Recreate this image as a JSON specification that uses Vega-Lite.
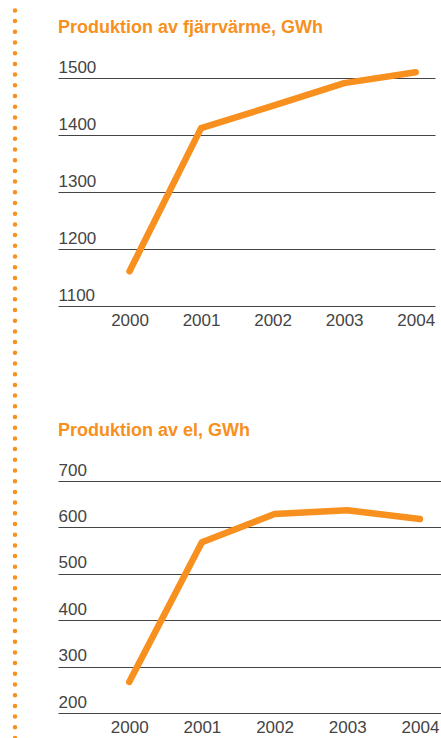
{
  "$schema": "https://vega.github.io/schema/vega-lite/v6.json",
  "padding": {"left": 0, "top": 7, "right": 0, "bottom": 0},
  "background": "white",
  "config": {"view": {"stroke": null}, "font": "Liberation Sans"},
  "datasets": {
    "dots": [{"x": 0.5, "start": 0, "end": 1.103}],
    "heat": [
      {"year": 2000, "value": 1161},
      {"year": 2001, "value": 1412},
      {"year": 2002, "value": 1451},
      {"year": 2003, "value": 1491},
      {"year": 2004, "value": 1510}
    ],
    "el": [
      {"year": 2000, "value": 267},
      {"year": 2001, "value": 568},
      {"year": 2002, "value": 629},
      {"year": 2003, "value": 637},
      {"year": 2004, "value": 618}
    ]
  },
  "spacing": 28,
  "hconcat": [
    {
      "data": {"name": "dots"},
      "width": 30,
      "height": 660,
      "mark": {"type": "rule", "color": "#F7901E", "strokeWidth": 4.5, "strokeDash": [0, 10.7], "strokeCap": "round"},
      "encoding": {
        "x": {"field": "x", "type": "quantitative", "scale": {"domain": [0, 1]}, "axis": null},
        "y": {"field": "start", "type": "quantitative", "scale": {"domain": [0, 1], "nice": false}, "axis": null},
        "y2": {"field": "end"}
      }
    },
    {
      "spacing": 94,
      "vconcat": [
        {
          "data": {"name": "heat"},
          "width": 377,
          "height": 228,
          "title": {"text": "Produktion av fjärrvärme, GWh", "anchor": "start", "color": "#F7901E", "fontSize": 18, "fontWeight": "bold", "font": "Liberation Sans", "offset": 21},
          "mark": {"type": "line", "color": "#F7901E", "strokeWidth": 6.5, "strokeCap": "round", "strokeJoin": "round"},
          "encoding": {
            "x": {"field": "year", "type": "quantitative", "scale": {"domain": [1999, 2004.27], "nice": false, "zero": false},
              "axis": {"values": [2000, 2001, 2002, 2003, 2004], "format": "d", "title": null, "domain": false, "ticks": false, "tickSize": 0, "grid": false, "labelFlush": false, "labelFontSize": 17, "labelColor": "#444", "labelPadding": 6, "labelFont": "Liberation Sans"}},
            "y": {"field": "value", "type": "quantitative", "scale": {"domain": [1100, 1500], "nice": false, "zero": false},
              "axis": {"values": [1100, 1200, 1300, 1400, 1500], "format": "d", "title": null, "domain": false, "ticks": false, "tickSize": 0, "grid": true, "gridColor": "#444", "gridWidth": 1, "labelAlign": "left", "labelBaseline": "alphabetic", "labelPadding": 0, "labelOffset": -6, "labelFontSize": 17, "labelColor": "#444", "labelFont": "Liberation Sans", "labelFlush": false}}
          }
        },
        {
          "data": {"name": "el"},
          "width": 383,
          "height": 232,
          "title": {"text": "Produktion av el, GWh", "anchor": "start", "color": "#F7901E", "fontSize": 18, "fontWeight": "bold", "font": "Liberation Sans", "offset": 21},
          "mark": {"type": "line", "color": "#F7901E", "strokeWidth": 6.5, "strokeCap": "round", "strokeJoin": "round"},
          "encoding": {
            "x": {"field": "year", "type": "quantitative", "scale": {"domain": [1999.02, 2004.29], "nice": false, "zero": false},
              "axis": {"values": [2000, 2001, 2002, 2003, 2004], "format": "d", "title": null, "domain": false, "ticks": false, "tickSize": 0, "grid": false, "labelFlush": false, "labelFontSize": 17, "labelColor": "#444", "labelPadding": 6, "labelFont": "Liberation Sans"}},
            "y": {"field": "value", "type": "quantitative", "scale": {"domain": [200, 700], "nice": false, "zero": false},
              "axis": {"values": [200, 300, 400, 500, 600, 700], "format": "d", "title": null, "domain": false, "ticks": false, "tickSize": 0, "grid": true, "gridColor": "#444", "gridWidth": 1, "labelAlign": "left", "labelBaseline": "alphabetic", "labelPadding": 0, "labelOffset": -6, "labelFontSize": 17, "labelColor": "#444", "labelFont": "Liberation Sans", "labelFlush": false}}
          }
        }
      ]
    }
  ]
}
